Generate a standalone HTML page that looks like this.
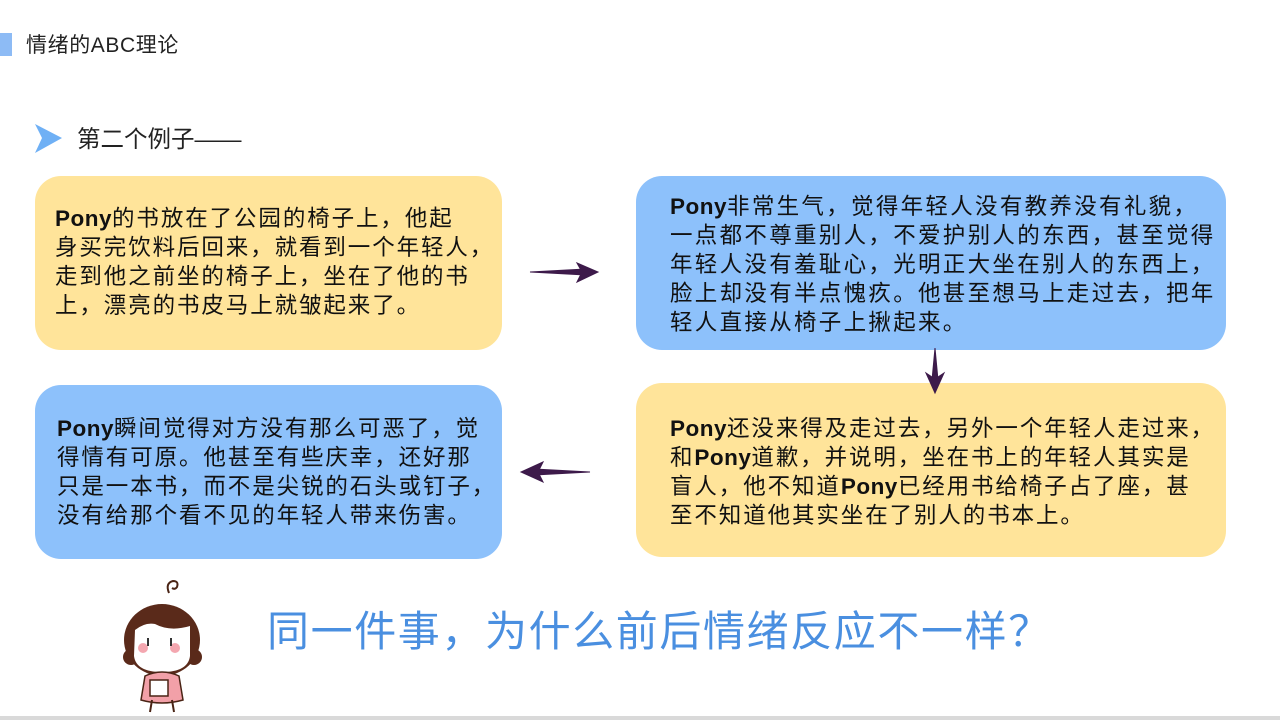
<!DOCTYPE html>
<html><head><meta charset="utf-8"><style>
body{margin:0;width:1280px;height:720px;position:relative;overflow:hidden;background:#fff;font-family:"Liberation Sans","Noto Sans CJK SC",sans-serif;color:#1a1a1a}
.a{position:absolute;white-space:nowrap}
.box{position:absolute;border-radius:26px}
.y{background:#FFE49A}
.b{background:#8DC1FB}
.t{position:absolute;font-size:22.5px;line-height:29px;white-space:nowrap;color:#111;letter-spacing:1.9px}
.t b{font-family:"Liberation Sans","Noto Sans CJK SC",sans-serif;font-weight:bold;letter-spacing:0.5px}
</style></head><body>
<div class="a" style="left:0;top:33px;width:12px;height:23px;background:#8DBBF5"></div>
<div class="a" style="left:26px;top:32px;font-size:21px;line-height:28px;color:#222;letter-spacing:0.6px">情绪的ABC理论</div>
<svg class="a" style="left:35px;top:124px" width="28" height="30"><polygon points="0,0 27,14 0,29 7,14" fill="#6FB0F5"/></svg>
<div class="a" style="left:77px;top:124px;font-size:23.5px;line-height:30px;color:#222">第二个例子——</div>

<div class="box y" style="left:35px;top:176px;width:467px;height:174px"></div>
<div class="box b" style="left:636px;top:176px;width:590px;height:174px"></div>
<div class="box y" style="left:636px;top:383px;width:590px;height:174px"></div>
<div class="box b" style="left:35px;top:385px;width:467px;height:174px"></div>

<div class="t" style="left:55px;top:204px"><b>Pony</b>的书放在了公园的椅子上，他起<br>身买完饮料后回来，就看到一个年轻人，<br>走到他之前坐的椅子上，坐在了他的书<br>上，漂亮的书皮马上就皱起来了。</div>
<div class="t" style="left:670px;top:192px;letter-spacing:2.3px"><b>Pony</b>非常生气，觉得年轻人没有教养没有礼貌，<br>一点都不尊重别人，不爱护别人的东西，甚至觉得<br>年轻人没有羞耻心，光明正大坐在别人的东西上，<br>脸上却没有半点愧疚。他甚至想马上走过去，把年<br>轻人直接从椅子上揪起来。</div>
<div class="t" style="left:670px;top:414px"><b>Pony</b>还没来得及走过去，另外一个年轻人走过来，<br>和<b>Pony</b>道歉，并说明，坐在书上的年轻人其实是<br>盲人，他不知道<b>Pony</b>已经用书给椅子占了座，甚<br>至不知道他其实坐在了别人的书本上。</div>
<div class="t" style="left:57px;top:414px"><b>Pony</b>瞬间觉得对方没有那么可恶了，觉<br>得情有可原。他甚至有些庆幸，还好那<br>只是一本书，而不是尖锐的石头或钉子，<br>没有给那个看不见的年轻人带来伤害。</div>

<svg class="a" style="left:0;top:0" width="1280" height="720">
<g fill="#3d1a4a" stroke="#3d1a4a">
<path d="M530 272 L585 269 L585 275 Z" stroke-width="1"/><polygon points="577,263 598,272 577,282 582,272"/>
<path d="M935 348 L932 380 L938 380 Z"/><polygon points="926,373 935,393 944,373 935,379"/>
<path d="M590 472 L535 469 L535 475 Z"/><polygon points="543,462 521,472 543,482 538,472"/>
</g>
<g stroke="#4a2415" stroke-width="2" fill="none">
<path d="M169 593 q-4-10 4-12 q6 0 4 6 q-2 3-5 1"/>
</g>
<ellipse cx="162" cy="640" rx="38" ry="36" fill="#5a2a1a"/>
<ellipse cx="131" cy="657" rx="8" ry="8" fill="#5a2a1a"/>
<ellipse cx="194" cy="657" rx="8" ry="8" fill="#5a2a1a"/>
<path d="M135 630 q10 -8 20 -6 q15 8 35 2 l0 30 q-2 16 -28 16 q-26 0 -28-16 z" fill="#fff"/>
<circle cx="143" cy="648" r="5" fill="#f4a7b0"/><circle cx="175" cy="648" r="5" fill="#f4a7b0"/>
<rect x="147" y="638" width="2" height="8" fill="#333"/><rect x="170" y="638" width="2" height="8" fill="#333"/>
<path d="M145 676 q17 -8 34 0 l4 24 q-21 6 -42 0 z" fill="#f2a0a8" stroke="#4a2415" stroke-width="1.5"/>
<rect x="150" y="680" width="18" height="16" fill="#fff" stroke="#4a2415" stroke-width="1.5"/>
<path d="M152 700 l-2 12 M172 700 l2 12" stroke="#4a2415" stroke-width="2"/>
</svg>
<div class="a" style="left:267px;top:606px;font-size:42px;line-height:52px;color:#4A8FE0;letter-spacing:1.6px">同一件事，为什么前后情绪反应不一样？</div>
<div class="a" style="left:0;top:716px;width:1280px;height:4px;background:#d9d9d9"></div>
</body></html>
